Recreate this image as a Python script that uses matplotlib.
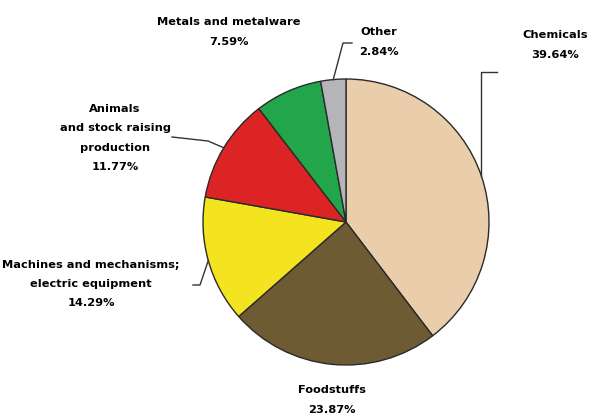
import numpy as np
import matplotlib
matplotlib.use("Agg")
import matplotlib.pyplot as plt

# Export structure by product group, share of total (%)
categories = ["Chemicals", "Foodstuffs", "Machines and mechanisms;\nelectric equipment",
              "Animals\nand stock raising\nproduction", "Metals and metalware", "Other"]
shares = [39.64, 23.87, 14.29, 11.77, 7.59, 2.84]
colors = ["#EACDAA", "#6E5B33", "#F3E41F", "#DC2424", "#22A54B", "#B5B5B9"]

W, H = 590, 417
fig = plt.figure(figsize=(W / 100, H / 100), dpi=100)

# pie placed by its centre and radius in pixels
cx, cy, R = 346, 222, 143
ax = fig.add_axes([(cx - R) / W, (H - cy - R) / H, 2 * R / W, 2 * R / H])
wedges, _ = ax.pie(shares, colors=colors, startangle=90, counterclock=False,
                   radius=1.0, wedgeprops=dict(edgecolor="#2a2a2a", linewidth=1.0))
ax.set_xlim(-1, 1)
ax.set_ylim(-1, 1)
ax.set_aspect("equal")
ax.axis("off")


def px(x, y):
    """pixel position -> pie data coordinates"""
    return (x - cx) / R, (cy - y) / R


def edge_point(i):
    w = wedges[i]
    a = np.deg2rad((w.theta1 + w.theta2) / 2)
    return np.cos(a), np.sin(a)


def leader(i, pts):
    x0, y0 = edge_point(i)
    xs = [x0] + [px(*p)[0] for p in pts]
    ys = [y0] + [px(*p)[1] for p in pts]
    ax.plot(xs, ys, color="#333333", lw=1.0, clip_on=False)


# leader lines
e = edge_point(0)
ex = cx + e[0] * R
leader(0, [(ex, 72), (497, 72)])
leader(5, [(343, 43), (352, 43)])
leader(3, [(208, 141), (172, 137)])
leader(2, [(200, 285), (193, 285)])

# labels: name on top, share below
label_pos = {
    0: (555, 45),
    1: (332, 400),
    2: (91, 284),
    3: (115, 138),
    4: (229, 32),
    5: (379, 42),
}
for i, (name, val) in enumerate(zip(categories, shares)):
    x, y = label_pos[i]
    fig.text(x / W, 1 - y / H, f"{name}\n{val:.2f}%", ha="center", va="center",
             fontsize=8.2, fontweight="bold", linespacing=2.15,
             family="DejaVu Sans", color="black")

fig.savefig("out.png", dpi=100, facecolor="white")
